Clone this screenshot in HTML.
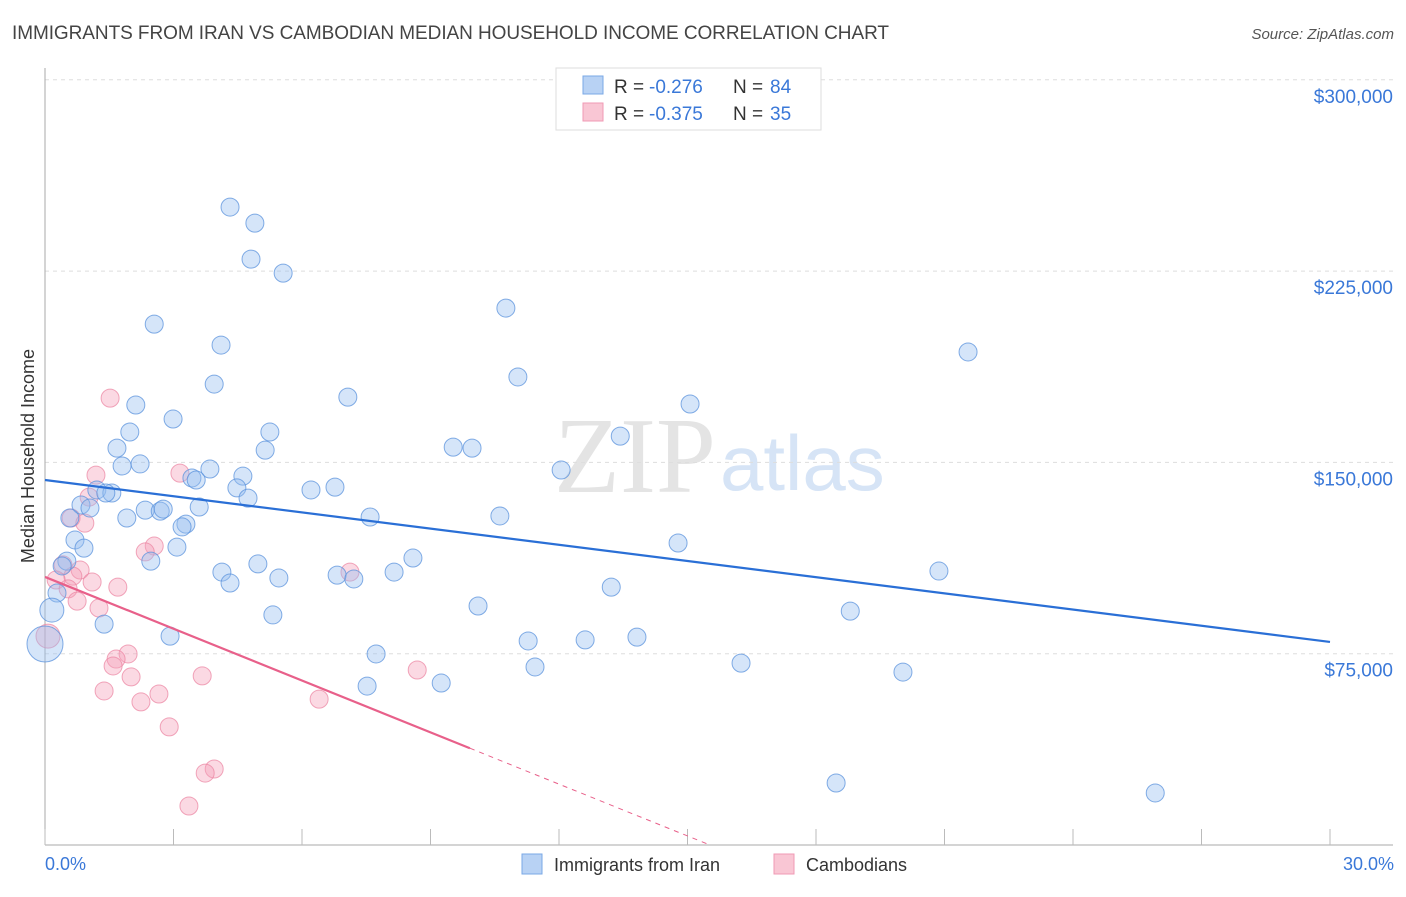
<!DOCTYPE html>
<html><head><meta charset="utf-8"><style>
body{margin:0;background:#fff;font-family:"Liberation Sans",sans-serif;}
svg text{font-family:"Liberation Sans",sans-serif;}
</style></head><body>
<svg id="chart" width="1406" height="892">
<text x="12" y="39" font-size="19" fill="#444" textLength="877">IMMIGRANTS FROM IRAN VS CAMBODIAN MEDIAN HOUSEHOLD INCOME CORRELATION CHART</text>
<text x="1394" y="39" font-size="15" fill="#555" font-style="italic" text-anchor="end">Source: ZipAtlas.com</text>
<text x="716" y="492" font-size="108" fill="#e4e4e4" text-anchor="end" style="font-family:'Liberation Serif',serif">ZIP</text>
<text x="720" y="490" font-size="78" fill="#d6e4f6">atlas</text>
<g id="grid"></g><g id="axes"></g><g id="pts"></g><g id="lines"></g>
<text transform="translate(34,456) rotate(-90)" font-size="18" fill="#333" text-anchor="middle">Median Household Income</text>
<text x="45" y="870" font-size="18" fill="#3a78d8">0.0%</text>
<text x="1394" y="870" font-size="18" fill="#3a78d8" text-anchor="end">30.0%</text>
<g>
<rect x="556" y="68" width="265" height="62" fill="#fff" stroke="#ddd"/>
<rect x="583" y="76" width="20" height="18" fill="#b8d2f4" stroke="#7aa8e6"/>
<rect x="583" y="103" width="20" height="18" fill="#f9c6d4" stroke="#f09ab4"/>
<text x="614" y="93" font-size="19" fill="#333">R =</text>
<text x="649" y="93" font-size="19" fill="#3a78d8">-0.276</text>
<text x="733" y="93" font-size="19" fill="#333">N =</text>
<text x="770" y="93" font-size="19" fill="#3a78d8">84</text>
<text x="614" y="120" font-size="19" fill="#333">R =</text>
<text x="649" y="120" font-size="19" fill="#3a78d8">-0.375</text>
<text x="733" y="120" font-size="19" fill="#333">N =</text>
<text x="770" y="120" font-size="19" fill="#3a78d8">35</text>
</g>
<g>
<rect x="522" y="854" width="20" height="20" fill="#b8d2f4" stroke="#7aa8e6"/>
<text x="554" y="871" font-size="18" fill="#333">Immigrants from Iran</text>
<rect x="774" y="854" width="20" height="20" fill="#f9c6d4" stroke="#f09ab4"/>
<text x="806" y="871" font-size="18" fill="#333">Cambodians</text>
</g>
</svg>
<script>
const yTicks=[75,150,225,300];
const yTickLabels=["$75,000","$150,000","$225,000","$300,000"];
const xTicks=[0,3,6,9,12,15,18,21,24,27,30];
const iranX=[4.32,4.90,4.81,5.56,10.76,2.55,4.11,21.55,3.95,11.04,7.07,15.06,2.12,2.99,1.98,5.25,13.43,1.68,5.14,9.53,9.97,1.80,2.22,3.85,12.05,4.62,3.43,3.53,1.21,4.48,6.21,6.77,1.56,1.42,4.74,0.84,1.05,2.34,2.69,2.76,3.60,0.58,1.91,3.29,3.20,7.59,10.62,0.70,0.91,3.08,14.78,0.51,2.47,8.59,4.97,0.40,4.13,8.15,20.87,6.82,5.46,7.21,4.32,13.22,0.28,0.16,10.11,18.80,5.32,1.38,2.92,11.28,12.61,13.82,7.73,11.44,16.25,20.03,7.52,9.25,18.47,25.92,0.0];
const iranY=[250.1,243.8,229.7,224.2,210.5,204.2,196,193.3,180.7,183.5,175.6,172.9,172.5,167,161.9,161.9,160.3,155.6,154.8,156,155.6,148.6,149.4,147.4,147,144.6,143.9,143.1,139.2,140,139.2,140.3,138,138,136,133.3,132.1,131.3,130.9,131.7,132.5,128.2,128.2,125.8,124.7,128.6,129,119.6,116.4,116.8,118.4,111.3,111.3,112.5,110.2,109.4,107,107,107.4,105.8,104.7,104.3,102.7,101.1,98.8,92.1,93.7,91.7,90.2,86.6,81.9,80,80.4,81.5,74.9,69.8,71.3,67.8,62.3,63.5,24.3,20.4,78.8];
const iranR=[9,9,9,9,9,9,9,9,9,9,9,9,9,9,9,9,9,9,9,9,9,9,9,9,9,9,9,9,9,9,9,9,9,9,9,9,9,9,9,9,9,9,9,9,9,9,9,9,9,9,9,9,9,9,9,9,9,9,9,9,9,9,9,9,9,12,9,9,9,9,9,9,9,9,9,9,9,9,9,9,9,9,18];
const cambX=[1.52,1.19,3.15,1.03,0.61,0.93,2.55,2.34,0.42,0.82,7.12,0.65,0.26,1.10,1.70,0.54,0.75,1.26,0.07,1.94,1.66,1.59,8.69,2.01,3.67,1.38,2.66,2.24,6.40,2.90,3.95,3.74,3.36];
const cambY=[175.2,145,145.8,136.4,128.2,126.2,117.2,114.9,109.8,107.8,107,105.4,103.9,103.1,101.1,100.4,95.6,92.9,81.9,74.9,72.9,70.2,68.6,65.9,66.3,60.4,59.2,56.1,57.2,46.3,29.8,28.2,15.3];
const iranTrend=[143.1,79.6];
const cambTrend=[105.1,-6.77];
const NS="http://www.w3.org/2000/svg";
const X=p=>45+p*1285/30, Y=v=>845-v*191.3/75;
function mk(tag,par,attrs){const e=document.createElementNS(NS,tag);for(const k in attrs)e.setAttribute(k,attrs[k]);document.getElementById(par).appendChild(e);return e;}
yTicks.forEach((t,i)=>{
 const l=mk('line','grid',{x1:45,x2:1393,y1:Y(t),y2:Y(t),stroke:'#ddd','stroke-dasharray':'4,4'});
 
 
 const tx=mk('text','grid',{x:1393,y:Y(t)+23,'font-size':19,fill:'#3a78d8','text-anchor':'end'});
 tx.textContent=yTickLabels[i];
 
 
});
const ax=mk('line','axes',{x1:45,x2:45,y1:68,y2:845,stroke:'#aaa'});


const bx=mk('line','axes',{x1:45,x2:1393,y1:845,y2:845,stroke:'#aaa'});


xTicks.forEach(t=>{
 const l=mk('line','axes',{x1:X(t),x2:X(t),y1:829,y2:845,stroke:'#bbb'});
 
 
});
cambX.forEach((x,i)=>{
 const c=mk('circle','pts',{cx:X(x),cy:Y(cambY[i]),r:i==18?12:9,fill:'rgba(246,160,185,0.4)',stroke:'rgba(235,130,160,0.7)'});
 
 
});
iranX.forEach((x,i)=>{
 const c=mk('circle','pts',{cx:X(x),cy:Y(iranY[i]),r:iranR[i],fill:'rgba(150,190,240,0.4)',stroke:'rgba(90,145,220,0.75)'});
 
 
});
const bl=mk('line','lines',{x1:X(0),y1:Y(iranTrend[0]),x2:X(30),y2:Y(iranTrend[1]),stroke:'#2a6fd6','stroke-width':2.2});


const xe=9.92, xz=-cambTrend[0]/cambTrend[1];
const pl=mk('line','lines',{x1:X(0),y1:Y(cambTrend[0]),x2:X(xe),y2:Y(cambTrend[0]+cambTrend[1]*xe),stroke:'#e8608a','stroke-width':2.2});


const pd=mk('line','lines',{x1:X(xe),y1:Y(cambTrend[0]+cambTrend[1]*xe),x2:X(xz),y2:Y(0),stroke:'#e8608a','stroke-width':1,'stroke-dasharray':'5,5'});


</script>
</body></html>
